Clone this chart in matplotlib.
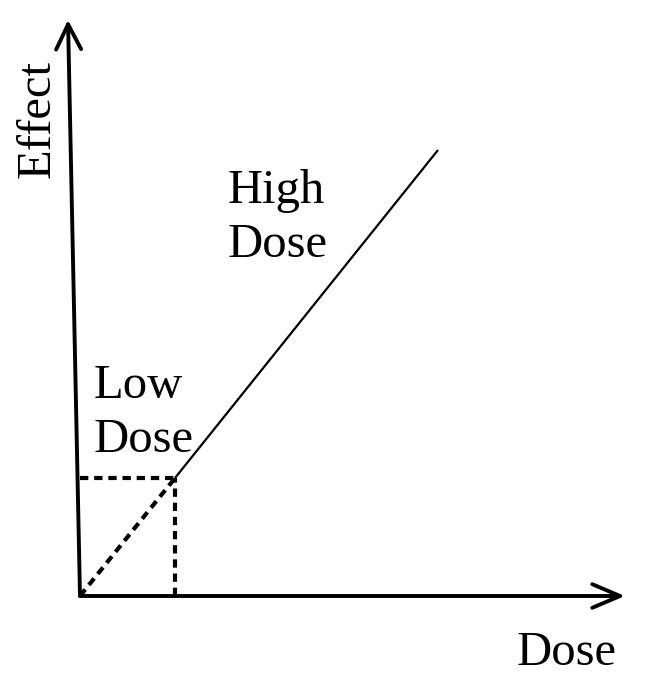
import matplotlib
matplotlib.use("Agg")
import matplotlib.pyplot as plt

# Dose-response sketch (arbitrary units, origin at the axes corner)
low_dose = [0, 95]
low_effect = [0, 118]
high_dose = [95, 358]
high_effect = [118, 446]
knee_dose = 95
knee_effect = 118

x_axis_end = (545, 0)
y_axis_end = (-12, 576)

plt.rcParams['font.family'] = ['Liberation Serif', 'DejaVu Serif']

fig = plt.figure(figsize=(6.5, 6.89), dpi=100)
ax = fig.add_axes([0, 0, 1, 1])
ax.set_xlim(-80, 570)
ax.set_ylim(-93, 596)
ax.axis('off')

# axes as open arrows
ax.annotate('', xy=x_axis_end, xytext=(0, 0),
            arrowprops=dict(arrowstyle='->,head_length=2.0,head_width=0.85',
                            lw=2.8, color='k', shrinkA=0, shrinkB=0))
ax.annotate('', xy=y_axis_end, xytext=(0, 0),
            arrowprops=dict(arrowstyle='->,head_length=1.8,head_width=0.9',
                            lw=2.8, color='k', shrinkA=0, shrinkB=0))

# high dose: solid line
ax.plot(high_dose, high_effect, color='k', lw=1.6, solid_capstyle='butt')

# low dose: dashed diagonal + guide lines to the knee
dash = (0, (2.0, 1.4))
ax.plot(low_dose, low_effect, color='k', lw=3, linestyle=dash)
ax.plot([0, knee_dose], [knee_effect, knee_effect], color='k', lw=3,
        linestyle=dash)
ax.plot([knee_dose, knee_dose], [0, knee_effect], color='k', lw=3,
        linestyle=dash)

# labels
ax.text(148, 329, 'High\nDose', fontsize=35, ha='left', va='bottom',
        linespacing=1.3)
ax.text(14, 134, 'Low\nDose', fontsize=35, ha='left', va='bottom',
        linespacing=1.3)
ax.text(437, -69, 'Dose', fontsize=35, ha='left', va='baseline')
ax.text(-42, 477, 'Effect', fontsize=35, rotation=90, ha='center', va='center')

fig.savefig('out.png', dpi=100)
